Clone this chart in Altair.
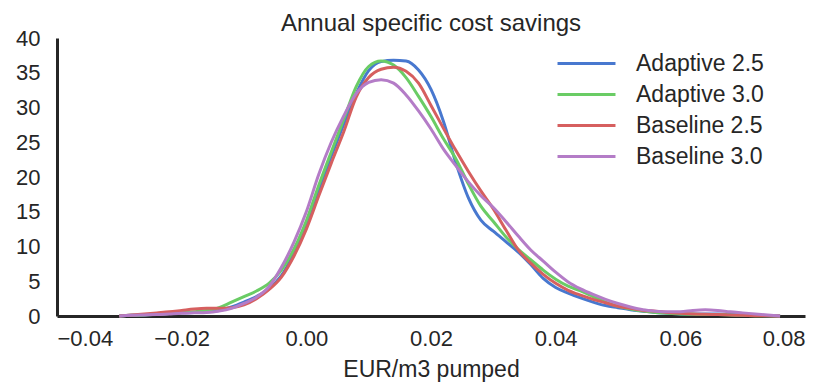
import altair as alt
import pandas as pd

# x grid (EUR/m3 pumped)
x_vals = [-0.030, -0.028, -0.026, -0.024, -0.022, -0.020, -0.018, -0.016, -0.014,
          -0.012, -0.010, -0.008, -0.006, -0.004, -0.002, 0.000, 0.002, 0.004, 0.006,
          0.008, 0.010, 0.012, 0.014, 0.016, 0.018, 0.020, 0.022, 0.024, 0.026,
          0.028, 0.030, 0.032, 0.034, 0.036, 0.038, 0.040, 0.042, 0.044, 0.046,
          0.048, 0.050, 0.052, 0.054, 0.056, 0.058, 0.060, 0.062, 0.064, 0.066,
          0.068, 0.070, 0.072, 0.074, 0.076]

adaptive_25 = [0, 0.1, 0.15, 0.25, 0.35, 0.45, 0.5, 0.6, 0.8,
               1.3, 2.0, 2.8, 3.9, 5.8, 9.0, 13.2, 18.2, 23.0, 27.6,
               32.0, 35.3, 36.6, 36.8, 36.7, 35.4, 32.6, 28.0, 22.0, 17.0,
               13.8, 12.2, 10.7, 9.2, 7.4, 5.4, 4.1, 3.3, 2.6, 2.0,
               1.5, 1.2, 0.9, 0.7, 0.5, 0.4, 0.3, 0.3, 0.3, 0.3,
               0.2, 0.15, 0.1, 0.05, 0]

adaptive_30 = [0, 0.1, 0.15, 0.25, 0.35, 0.45, 0.6, 0.8, 1.2,
               2.0, 2.8, 3.6, 4.7, 6.6, 9.6, 13.7, 18.8, 23.6, 28.3,
               33.0, 35.9, 36.7, 36.1, 34.3, 31.6, 28.7, 25.5, 22.6, 19.0,
               15.8, 13.6, 11.4, 9.6, 8.1, 6.6, 5.3, 4.3, 3.6, 2.8,
               2.0, 1.4, 1.0, 0.7, 0.5, 0.4, 0.3, 0.25, 0.2, 0.2,
               0.15, 0.1, 0.05, 0.02, 0]

baseline_25 = [0, 0.15, 0.3, 0.45, 0.6, 0.8, 1.0, 1.1, 1.1,
               1.2, 1.6, 2.5, 3.8, 5.6, 8.6, 12.5, 17.3, 22.0, 26.5,
               31.5, 34.3, 35.5, 35.8, 35.2, 33.5, 30.3, 27.0, 23.8, 20.8,
               18.0, 15.4, 12.4, 9.5, 7.6, 6.0, 4.7, 3.7, 3.0, 2.4,
               1.9, 1.4, 1.1, 0.8, 0.7, 0.5, 0.4, 0.3, 0.25, 0.2,
               0.15, 0.1, 0.05, 0.02, 0]

baseline_30 = [0, 0.1, 0.15, 0.2, 0.3, 0.4, 0.45, 0.5, 0.7,
               1.1, 1.8, 2.7, 4.2, 7.0, 10.6, 15.0, 20.4, 25.0, 28.8,
               32.0, 33.6, 34.0, 33.5, 31.8, 29.5, 26.9, 24.0, 21.6, 19.3,
               17.3, 15.6, 13.6, 11.5, 9.5, 7.9, 6.3, 4.9, 3.9, 3.1,
               2.4, 1.8, 1.3, 0.9, 0.7, 0.6, 0.6, 0.8, 0.9, 0.8,
               0.6, 0.45, 0.3, 0.15, 0]

series_names = ["Adaptive 2.5", "Adaptive 3.0", "Baseline 2.5", "Baseline 3.0"]
series_colors = ["#4878CF", "#6ACC65", "#D65F5F", "#B47CC7"]
x_ticks = [-0.04, -0.02, 0.0, 0.02, 0.04, 0.06, 0.08]
y_ticks = [0, 5, 10, 15, 20, 25, 30, 35, 40]

rows = []
for name, vals in zip(series_names, [adaptive_25, adaptive_30, baseline_25, baseline_30]):
    for xv, yv in zip(x_vals, vals):
        rows.append({"x": xv, "density": yv, "series": name})
df = pd.DataFrame(rows)

FONT = "Liberation Sans"
TXT = "#262626"

chart = alt.Chart(df).mark_line(strokeWidth=3, interpolate="monotone").encode(
    x=alt.X("x:Q",
            scale=alt.Scale(domain=[-0.04, 0.08], nice=False, zero=False),
            axis=alt.Axis(values=x_ticks, format=".2f", title="EUR/m3 pumped",
                          labelPadding=12, titlePadding=9)),
    y=alt.Y("density:Q",
            scale=alt.Scale(domain=[0, 40], nice=False),
            axis=alt.Axis(values=y_ticks, format="d", title=None, labelPadding=17)),
    color=alt.Color("series:N",
                    scale=alt.Scale(domain=series_names, range=series_colors),
                    legend=alt.Legend(title=None, orient="none", legendX=518, legendY=14,
                                      symbolType="M-4,0H4", symbolSize=210,
                                      symbolStrokeWidth=3, labelOffset=38,
                                      rowPadding=7, labelFont=FONT, labelFontSize=23,
                                      labelColor=TXT)),
).properties(
    width=748, height=278,
    title=alt.TitleParams("Annual specific cost savings", font=FONT, fontSize=24,
                          fontWeight="normal", color=TXT, anchor="middle", offset=-9),
    autosize=alt.AutoSizeParams(type="none"),
    padding={"left": 49, "top": 30, "right": 20, "bottom": 70},
).configure_axis(
    grid=False, ticks=False, domainColor=TXT, domainWidth=3,
    labelFont=FONT, labelFontSize=22, labelColor=TXT,
    titleFont=FONT, titleFontSize=23, titleColor=TXT, titleFontWeight="normal",
).configure_view(stroke=None)

chart.save("out.html", embed_options={"renderer": "svg", "actions": False})
